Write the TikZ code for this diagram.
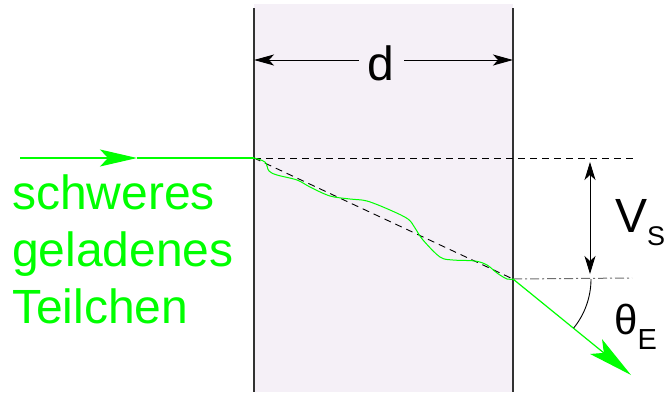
\documentclass[tikz,border=0pt]{standalone}
\usepackage{fontspec}
\setmainfont{Liberation Sans}
\usetikzlibrary{arrows.meta}
\definecolor{pgreen}{RGB}{0,255,0}
\definecolor{slabfill}{RGB}{245,240,247}
\definecolor{wallcol}{RGB}{50,50,50}
\definecolor{dashgray}{RGB}{110,110,110}
\tikzset{
  wall/.style={draw=wallcol,line width=1.3pt},
  greenline/.style={draw=pgreen,line width=1.2pt},
  dashline/.style={draw=black,line width=0.9pt,dash pattern=on 7pt off 5pt},
  dashdotline/.style={draw=dashgray,line width=1pt,dash pattern=on 9pt off 3pt on 2pt off 3pt},
  dimline/.style={draw=black,line width=1pt},
  bigtext/.style={inner sep=0pt,font=\fontsize{48}{57}\selectfont},
  greentext/.style={bigtext,text=pgreen,anchor=base west},
}
\begin{document}
\begin{tikzpicture}[x=1pt,y=-1pt]
\useasboundingbox (0,0) rectangle (667,392);
% slab
\fill[slabfill] (254,4) rectangle (513,392);
\draw[wall] (254,8) -- (254,392);
\draw[wall] (513,8) -- (513,392);
% coordinates
\coordinate (src) at (20,158);
\coordinate (mid) at (137,158);
\coordinate (entry) at (254,158);
\coordinate (exit) at (513,279);
\coordinate (topend) at (637,158);
\coordinate (ddend) at (632,278);
\coordinate (out) at (631,375);
% reference lines
\draw[dashline] (entry) -- (topend);
\draw[dashline] (entry) -- (exit);
\draw[dashdotline] (exit) -- (ddend);
% incoming ray
\draw[greenline,-{Stealth[length=37pt,width=17pt,inset=8pt]}] (src) -- (mid);
\draw[greenline] (mid) -- (entry);
% wavy path
\draw[greenline,line width=1pt] plot[smooth,tension=0.55] coordinates {
  (entry) (265,162) (269,171) (277,175) (297,180) (310,187) (330,196)
  (350,199) (367,201) (390,210) (408,219) (415,228) (423,240) (440,257)
  (453,260) (475,261) (487,265) (497,273) (507,279) (exit)};
% outgoing ray
\draw[greenline,-{Stealth[length=45pt,width=19pt,inset=10pt]}] (exit) -- (out);
% angle arc
\draw[line width=0.9pt] ([shift={(78,0)}]exit) arc[start angle=0,end angle=39,radius=78];
% thickness dimension
\coordinate (dl) at (254,60);
\coordinate (dr) at (513,60);
\node[bigtext,anchor=base] (dlabel) at (381,80) {d};
\draw[dimline,{Stealth[length=20pt,width=11pt,inset=5pt]}-] (dl) -- (359,60);
\draw[dimline,-{Stealth[length=20pt,width=11pt,inset=5pt]}] (404,60) -- (dr);
% Vs arrow
\coordinate (vt) at (590,162);
\coordinate (vb) at (590,274);
\draw[dimline,{Stealth[length=18pt,width=11pt,inset=5pt]}-{Stealth[length=18pt,width=11pt,inset=5pt]}] (vt) -- (vb);
\node[bigtext,anchor=base west] (vs) at (615,232) {V\raisebox{-13pt}{\fontsize{27}{27}\selectfont S}};
% theta
\node[inner sep=0pt,anchor=base west,font=\fontsize{42}{42}\selectfont] (th) at (614,334) {θ\raisebox{-15pt}{\fontsize{29}{29}\selectfont E}};
% text
\node[greentext] (t1) at (12,209) {schweres};
\node[greentext] (t2) at (12,266) {geladenes};
\node[greentext] (t3) at (12,323) {Teilchen};
\end{tikzpicture}
\end{document}
